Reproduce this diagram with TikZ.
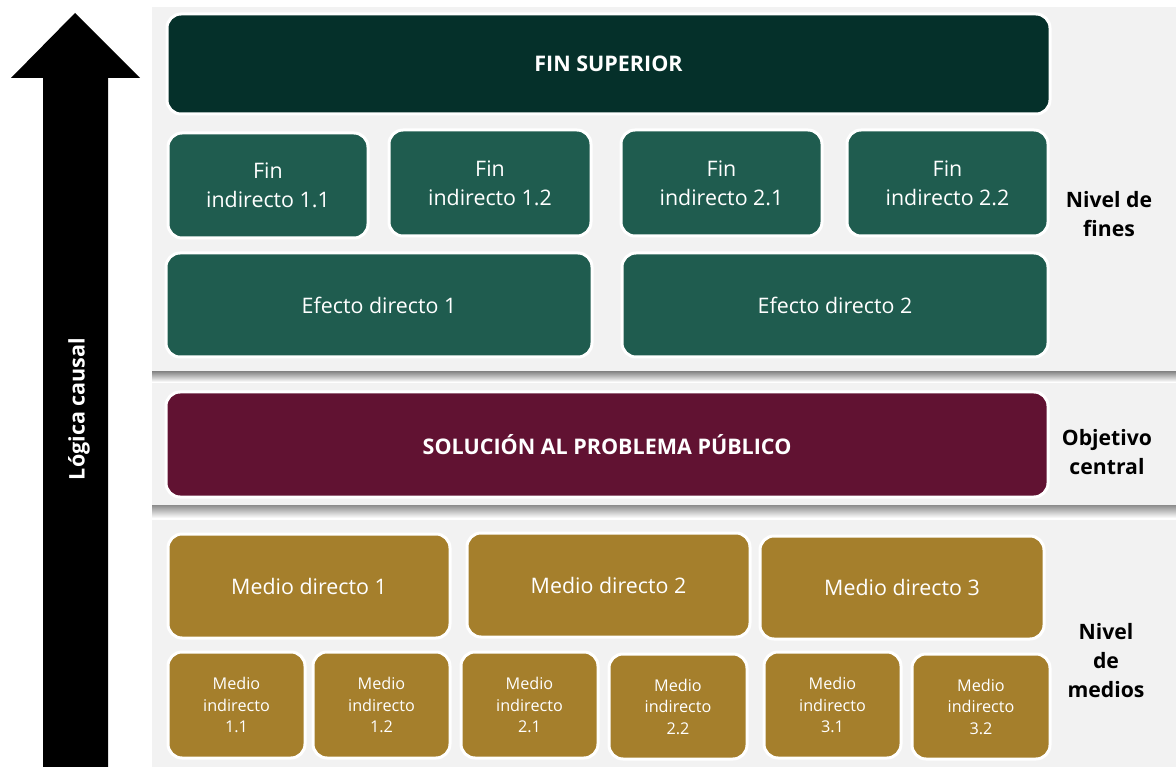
\documentclass[tikz,border=0pt]{standalone}
\usepackage{fontspec}
\setmainfont{Open Sans}
\usetikzlibrary{positioning}

\definecolor{verdeosc}{HTML}{05302A}
\definecolor{verde}{HTML}{1F5C4F}
\definecolor{guinda}{HTML}{611232}
\definecolor{oro}{HTML}{A57F2C}
\definecolor{fondo}{HTML}{F2F2F2}

\tikzset{
  caja/.style={draw=white, line width=3pt, rounded corners=14pt, text=white,
    align=center, inner sep=0pt},
  grande/.style={font=\fontsize{21.4}{29}\selectfont},
  chica/.style={font=\fontsize{16.2}{21.5}\selectfont},
  titulo/.style={font=\bfseries\fontsize{21.5}{24}\selectfont},
  nivel/.style={align=center, text=black, font=\bfseries\fontsize{21.2}{29}\selectfont},
  sombra/.style={top color=black!45, bottom color=white}
}

\begin{document}
\begin{tikzpicture}[x=1pt, y=-1pt]
\useasboundingbox (0,0) rectangle (1176,767);

% paneles de fondo
\fill[fondo] (152,7) rectangle (1176,372);
\shade[sombra] (152,372) rectangle (1176,382);
\fill[fondo] (152,383) rectangle (1176,505);
\shade[sombra] (152,505) rectangle (1176,518);
\fill[fondo] (152,520) rectangle (1176,767);

% flecha
\fill[black] (75,13) -- (140,78) -- (108,78) -- (108,767) -- (43,767) -- (43,78) -- (11,78) -- cycle;
\node[rotate=90, text=white, titulo] (logica) at (79,409) {Lógica causal};

% nivel de fines
\node[caja, fill=verdeosc, titulo, minimum width=883pt, minimum height=100pt] (finsup) at (608.5,64) {FIN SUPERIOR};

\node[caja, fill=verde, grande, minimum width=200pt, minimum height=105pt] (fin11) at (268,185.5) {Fin\\indirecto 1.1};
\node[caja, fill=verde, grande, minimum width=202pt, minimum height=106pt] (fin12) at (490,183) {Fin\\indirecto 1.2};
\node[caja, fill=verde, grande, minimum width=201pt, minimum height=106pt] (fin21) at (721.5,183) {Fin\\indirecto 2.1};
\node[caja, fill=verde, grande, minimum width=201pt, minimum height=106pt] (fin22) at (947.5,183) {Fin\\indirecto 2.2};

\node[caja, fill=verde, grande, minimum width=426pt, minimum height=104pt] (efecto1) at (379,305) {Efecto directo 1};
\node[caja, fill=verde, grande, minimum width=426pt, minimum height=104pt] (efecto2) at (835,305) {Efecto directo 2};

% objetivo central
\node[caja, fill=guinda, titulo, minimum width=882pt, minimum height=105pt] (solucion) at (607,444.5) {SOLUCIÓN AL PROBLEMA PÚBLICO};

% nivel de medios
\node[caja, fill=oro, grande, minimum width=282pt, minimum height=104pt] (medio1) at (309,586) {Medio directo 1};
\node[caja, fill=oro, grande, minimum width=283pt, minimum height=104pt] (medio2) at (608.5,585) {Medio directo 2};
\node[caja, fill=oro, grande, minimum width=284pt, minimum height=103pt] (medio3) at (902,587.5) {Medio directo 3};

\node[caja, fill=oro, chica, minimum width=137pt, minimum height=106pt] (mi11) at (236.5,705) {Medio\\indirecto\\1.1};
\node[caja, fill=oro, chica, minimum width=137pt, minimum height=106pt] (mi12) at (381.5,705) {Medio\\indirecto\\1.2};
\node[caja, fill=oro, chica, minimum width=137pt, minimum height=106pt] (mi21) at (529.5,705) {Medio\\indirecto\\2.1};
\node[caja, fill=oro, chica, minimum width=138pt, minimum height=105pt] (mi22) at (678,706.5) {Medio\\indirecto\\2.2};
\node[caja, fill=oro, chica, minimum width=137pt, minimum height=106pt] (mi31) at (832.5,705) {Medio\\indirecto\\3.1};
\node[caja, fill=oro, chica, minimum width=138pt, minimum height=105pt] (mi32) at (981,706.5) {Medio\\indirecto\\3.2};

% etiquetas de nivel
\node[nivel] (nfines) at (1109,214) {Nivel de\\fines};
\node[nivel] (nobjetivo) at (1107,452) {Objetivo\\central};
\node[nivel] (nmedios) at (1106,661) {Nivel\\de\\medios};
\end{tikzpicture}
\end{document}
